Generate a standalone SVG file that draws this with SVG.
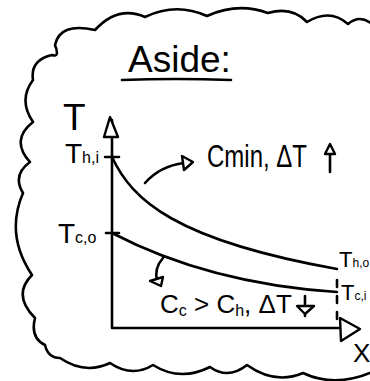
<svg xmlns="http://www.w3.org/2000/svg" width="370" height="381" viewBox="0 0 370 381">
<style>
.ln{fill:none;stroke:#000;stroke-width:2.6;stroke-linecap:round;stroke-linejoin:round}
.hd{fill:#fff;stroke:#000;stroke-width:2.4;stroke-linejoin:round}
text{font-family:"Liberation Sans","DejaVu Sans",sans-serif;fill:#000}
</style>
<rect width="370" height="381" fill="#fff"/>
<g id="cloud">
<path class="ln" d="M372,24 Q360,14 348,24 Q330,8 307,22 Q292,6 268,13 Q238,2 207,16 Q176,2 145,17 Q118,5 95,30 Q60,22 55,45 Q60,58 52,55 Q30,60 33,80 Q18,100 33,122 Q10,140 30,162 Q12,175 23,193 Q5,235 32,275 Q12,295 35,318 Q30,338 45,345 Q48,358 60,358 Q85,375 110,363 Q132,378 153,365 Q180,382 210,367 Q228,380 247,365 Q275,385 303,373 Q335,388 372,372"/>
</g>
<g id="title">
<text x="128" y="72" font-size="37">Aside:</text>
<path class="ln" d="M122,80 Q175,78 231,80"/>
</g>
<g id="axes">
<path class="ln" d="M112,120 L112,328 L357,328"/>
<polygon class="hd" points="110,117 104,137 118,137"/>
<polygon class="hd" points="360,329 340,318 341,341"/>
<path class="ln" d="M105,157 L119,157 M106,233 L119,233"/>
<path class="ln" d="M337,280 L337,325" stroke-dasharray="7 9" stroke-width="2"/>
</g>
<g id="label-t"><text x="63" y="130" font-size="37">T</text></g>
<g id="hot-curve">
<path class="ln" d="M112,157 C132,200 175,240 337,269"/>
</g>
<g id="cold-curve">
<path class="ln" d="M112,233 C160,258 230,285 337,292"/>
</g>
<g id="label-thi"><text x="65" y="163" font-size="28">T<tspan font-size="16">h,i</tspan></text></g>
<g id="label-tco"><text x="58" y="243" font-size="28">T<tspan font-size="16">c,o</tspan></text></g>
<g id="label-tho"><text x="339" y="267" font-size="22">T<tspan font-size="12">h,o</tspan></text></g>
<g id="label-tci"><text x="341" y="300" font-size="22">T<tspan font-size="12">c,i</tspan></text></g>
<g id="label-x"><text x="353" y="362" font-size="26">X</text></g>
<g id="label-cmin">
<text x="207" y="167" font-size="31" textLength="100" lengthAdjust="spacingAndGlyphs">Cmin, ΔT</text>
<path class="ln" d="M330,172 L330,152"/>
<polygon class="hd" points="330,144 325,154 335,154"/>
</g>
<g id="label-cc">
<text x="160" y="313" font-size="26">C<tspan font-size="16" dy="3">c</tspan><tspan dy="-3"> &gt; C</tspan><tspan font-size="16" dy="3">h</tspan><tspan dy="-3">, ΔT</tspan></text>
<path class="ln" d="M305,296 L305,316"/>
<polygon class="hd" points="305,314 297,306 314,306"/>
</g>
<g id="connectors">
<path class="ln" d="M145,183 Q160,166 184,163"/>
<polygon class="hd" points="193,162 182,156 184,170"/>
<path class="ln" d="M163,258 Q154,268 157,281"/>
<polygon class="hd" points="150,281 163,277 161,286"/>
</g>
</svg>
